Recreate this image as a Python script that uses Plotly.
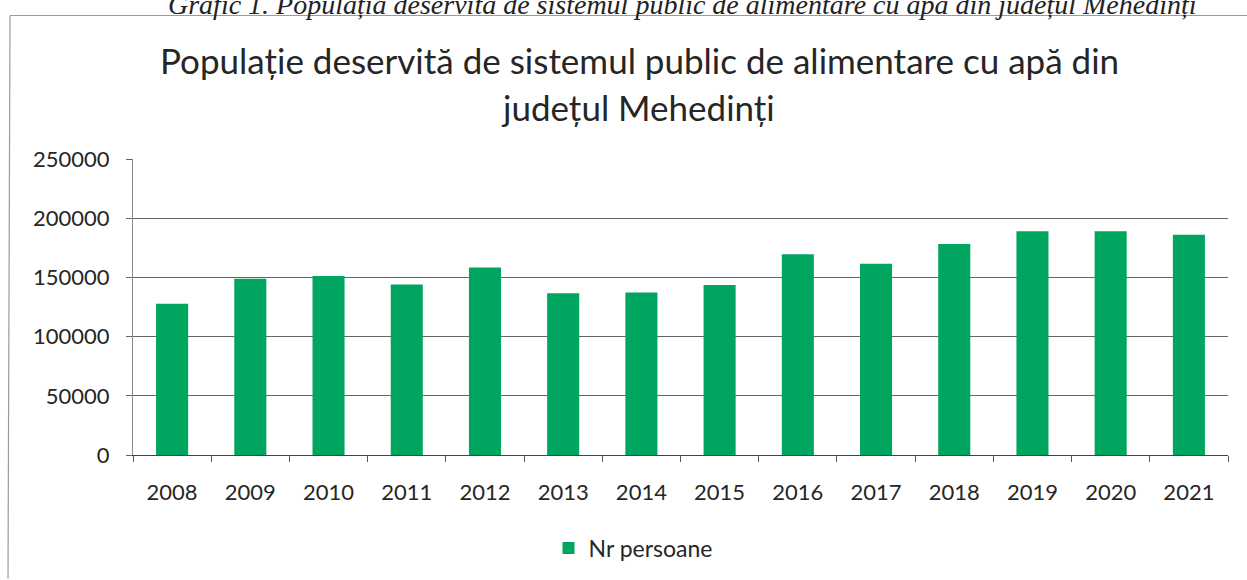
import plotly.graph_objects as go

years = ["2008", "2009", "2010", "2011", "2012", "2013", "2014",
         "2015", "2016", "2017", "2018", "2019", "2020", "2021"]
persoane = [127800, 148900, 151200, 143900, 158300, 136700, 137300,
            143500, 169600, 161500, 178300, 189000, 189000, 186000]
series_name = "Nr persoane"
title_line1 = "Populație deservită de sistemul public de alimentare cu apă din"
title_line2 = "județul Mehedinți"
caption = "Grafic 1. Populația deservită de sistemul public de alimentare cu apă din județul Mehedinți"
y_ticks = [0, 50000, 100000, 150000, 200000, 250000]

FONT = "Lato"
GREEN = "#00A65F"
TXT = "#262626"

W, H = 1247, 580
L, R, T, B = 133, 19, 159, 124
pw, ph = W - L - R, H - T - B

def px_x(x):
    return (x - L) / pw

def px_y(y):
    return (H - B - y) / ph

fig = go.Figure()
fig.add_trace(go.Bar(x=years, y=persoane, name=series_name,
                     marker=dict(color=GREEN, line=dict(width=0))))

fig.update_layout(
    width=W, height=H,
    margin=dict(l=L, r=R, t=T, b=B),
    paper_bgcolor="white", plot_bgcolor="white",
    bargap=0.59,
    font=dict(family=FONT, color=TXT, size=22),
    showlegend=True,
    legend=dict(orientation="h", x=px_x(633), xanchor="center",
                y=px_y(548), yanchor="middle",
                font=dict(family=FONT, size=23, color=TXT),
                itemwidth=30, bgcolor="rgba(0,0,0,0)"),
    xaxis=dict(type="category", showgrid=False, showline=True,
               linecolor="#444444", linewidth=1,
               ticks="outside", tickson="boundaries", ticklen=6,
               tickcolor="#555555",
               tickfont=dict(family=FONT, size=22, color=TXT),
               ticklabelstandoff=18),
    yaxis=dict(range=[0, 250000], tickvals=y_ticks,
               ticktext=[str(v) for v in y_ticks],
               showgrid=True, gridcolor="#666666", gridwidth=1,
               showline=True, linecolor="#8a8a8a", linewidth=1,
               ticks="outside", ticklen=6, tickcolor="#666666",
               zeroline=False,
               tickfont=dict(family=FONT, size=22, color=TXT),
               ticklabelstandoff=12),
)

fig.add_annotation(text=title_line1, xref="paper", yref="paper",
                   x=px_x(639), y=px_y(60), xanchor="center", yanchor="middle",
                   showarrow=False, font=dict(family=FONT, size=35, color=TXT))
fig.add_annotation(text=title_line2, xref="paper", yref="paper",
                   x=px_x(638), y=px_y(107), xanchor="center", yanchor="middle",
                   showarrow=False, font=dict(family=FONT, size=35, color=TXT))
fig.add_annotation(text="<i>" + caption + "</i>", xref="paper", yref="paper",
                   x=px_x(682), y=px_y(4), xanchor="center", yanchor="middle",
                   showarrow=False,
                   font=dict(family="Liberation Serif", size=28, color="#222222"))

# chart outer border (top and left edges visible in the scan)
fig.add_shape(type="line", xref="paper", yref="paper",
              x0=px_x(10), x1=px_x(1247), y0=px_y(15), y1=px_y(15),
              line=dict(color="#9a9a9a", width=1.2))
fig.add_shape(type="line", xref="paper", yref="paper",
              x0=px_x(10), x1=px_x(8), y0=px_y(15), y1=px_y(580),
              line=dict(color="#9a9a9a", width=1.2))

fig.write_html("out.html", config={"displayModeBar": False},
               post_script="document.body.style.margin='0px';")
